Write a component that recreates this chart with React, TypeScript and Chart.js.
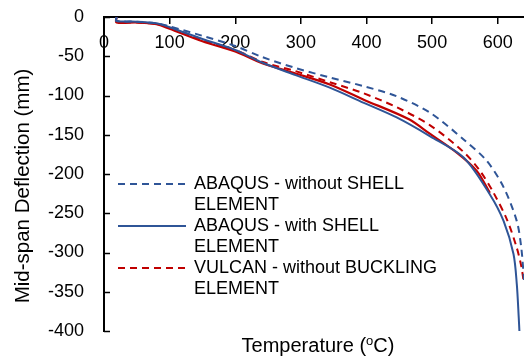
import React, { useEffect, useRef } from "react";
import { Chart, registerables } from "chart.js";

Chart.register(...registerables);

const FONT = "'Liberation Sans', Arial, Helvetica, sans-serif";

// ABAQUS - without SHELL ELEMENT (blue dashed)
const tempAbaqusNoShell = [19, 19, 50, 80, 100, 150, 200, 241, 292, 344, 395, 446, 497, 548, 583, 609, 629, 636, 640];
const deflAbaqusNoShell = [0, -5, -6, -8, -12, -24, -37, -51, -65, -77, -88, -101, -122, -156, -183, -217, -260, -295, -335];

// ABAQUS - with SHELL ELEMENT (blue solid)
const tempAbaqusShell = [19, 19, 50, 80, 100, 150, 200, 241, 292, 344, 395, 446, 497, 548, 588, 609, 624, 629, 632, 633];
const deflAbaqusShell = [0, -5, -6, -8, -13, -28, -42, -58, -74, -90, -109, -128, -152, -179, -226, -260, -302, -340, -383, -400];

// VULCAN - without BUCKLING ELEMENT (red dashed)
const tempVulcanNoBuckling = [19, 19, 50, 80, 100, 150, 200, 241, 292, 344, 395, 446, 497, 548, 573, 593, 614, 629, 636, 640];
const deflVulcanNoBuckling = [0, -6, -7, -9, -13, -29, -42, -57, -69, -83, -97, -115, -138, -172, -196, -223, -258, -294, -318, -340];

// VULCAN (red solid, no legend entry)
const tempVulcan = [19, 19, 50, 80, 100, 150, 200, 241, 292, 344, 395, 464, 497, 538, 568, 588];
const deflVulcan = [0, -7, -7, -9, -15, -31, -44, -59, -72, -86, -105, -130, -149, -173, -196, -224];

const xTickMin = 0;
const xTickMax = 640;
const xTickStep = 100;
const yTickMin = -400;
const yTickMax = 0;
const yTickStep = 50;

const legendLabels = [
  "ABAQUS - without SHELL ELEMENT",
  "ABAQUS - with SHELL ELEMENT",
  "VULCAN - without BUCKLING ELEMENT",
];

const xTitleMain = "Temperature (";
const xTitleSup = "o";
const xTitleEnd = "C)";
const yTitle = "Mid-span Deflection (mm)";

const BLUE = "#2F5597";
const RED = "#C00000";

const toPoints = (xs: number[], ys: number[]) => xs.map((x, i) => ({ x, y: ys[i] }));

const innerYTicks = {
  id: "innerYTicks",
  afterDraw(chart: any) {
    const ys = chart.scales.y;
    const ctx = chart.ctx;
    ctx.save();
    ctx.strokeStyle = "#000";
    ctx.lineWidth = 1.5;
    ys.ticks.forEach((t: any) => {
      const py = Math.round(ys.getPixelForValue(t.value)) + 0.5;
      ctx.beginPath();
      ctx.moveTo(chart.chartArea.left, py);
      ctx.lineTo(chart.chartArea.left + 6, py);
      ctx.stroke();
    });
    ctx.restore();
  },
};

const titlesPlugin = {
  id: "axisTitles",
  afterDraw(chart: any) {
    const ctx = chart.ctx;
    const ca = chart.chartArea;
    ctx.save();
    ctx.fillStyle = "#000";
    ctx.textBaseline = "alphabetic";
    const big = "20px " + FONT;
    const small = "13px " + FONT;
    ctx.font = big;
    const w1 = ctx.measureText(xTitleMain).width;
    const w3 = ctx.measureText(xTitleEnd).width;
    ctx.font = small;
    const w2 = ctx.measureText(xTitleSup).width;
    const total = w1 + w2 + w3;
    const cx = (ca.left + ca.right) / 2 + 4;
    let x = cx - total / 2;
    const base = 352;
    ctx.font = big;
    ctx.textAlign = "left";
    ctx.fillText(xTitleMain, x, base);
    x += w1;
    ctx.font = small;
    ctx.fillText(xTitleSup, x, base - 7);
    x += w2;
    ctx.font = big;
    ctx.fillText(xTitleEnd, x, base);
    ctx.save();
    ctx.translate(23, (ca.top + ca.bottom) / 2 + 12);
    ctx.rotate(-Math.PI / 2);
    ctx.font = "20.5px " + FONT;
    ctx.textAlign = "center";
    ctx.textBaseline = "middle";
    ctx.fillText(yTitle, 0, 0);
    ctx.restore();
    ctx.restore();
  },
};

const legendPlugin = {
  id: "customLegend",
  afterDraw(chart: any) {
    const ctx = chart.ctx;
    const ca = chart.chartArea;
    ctx.save();
    ctx.font = "18px " + FONT;
    ctx.textBaseline = "middle";
    ctx.textAlign = "left";
    const lineH = 21;
    const x0 = ca.left + 14;
    const x1 = ca.left + 82;
    const tx = ca.left + 90;
    const maxW = 255;
    let y = 184;
    const shown = chart.data.datasets.filter((d: any) => d.showInLegend);
    shown.forEach((ds: any) => {
      const words = ds.label.split(" ");
      const lines: string[] = [];
      let cur = "";
      words.forEach((w: string) => {
        const test = cur ? cur + " " + w : w;
        if (ctx.measureText(test).width > maxW && cur) {
          lines.push(cur);
          cur = w;
        } else cur = test;
      });
      if (cur) lines.push(cur);
      ctx.strokeStyle = ds.borderColor;
      ctx.lineWidth = ds.borderWidth;
      ctx.setLineDash(ds.borderDash || []);
      ctx.beginPath();
      ctx.moveTo(x0, y);
      ctx.lineTo(x1, y);
      ctx.stroke();
      ctx.setLineDash([]);
      ctx.fillStyle = "#000";
      lines.forEach((ln, i) => ctx.fillText(ln, tx, y + i * lineH));
      y += lines.length * lineH;
    });
    ctx.restore();
  },
};

export default function App() {
  const ref = useRef<HTMLCanvasElement | null>(null);
  useEffect(() => {
    if (!ref.current) return;
    const chart = new Chart(ref.current, {
      type: "line",
      data: {
        datasets: [
          {
            label: legendLabels[0],
            data: toPoints(tempAbaqusNoShell, deflAbaqusNoShell),
            borderColor: BLUE,
            borderWidth: 2,
            borderDash: [7, 5],
            pointRadius: 0,
            tension: 0.3,
            fill: false,
            showInLegend: true,
          } as any,
          {
            label: legendLabels[1],
            data: toPoints(tempAbaqusShell, deflAbaqusShell),
            borderColor: BLUE,
            borderWidth: 2,
            pointRadius: 0,
            tension: 0.3,
            fill: false,
            showInLegend: true,
          } as any,
          {
            label: legendLabels[2],
            data: toPoints(tempVulcanNoBuckling, deflVulcanNoBuckling),
            borderColor: RED,
            borderWidth: 2,
            borderDash: [7, 5],
            pointRadius: 0,
            tension: 0.3,
            fill: false,
            showInLegend: true,
          } as any,
          {
            label: "VULCAN",
            data: toPoints(tempVulcan, deflVulcan),
            borderColor: RED,
            borderWidth: 2.2,
            pointRadius: 0,
            tension: 0.3,
            fill: false,
            showInLegend: false,
          } as any,
        ],
      },
      options: {
        animation: false,
        responsive: false,
        layout: { padding: { top: 17, bottom: 27, left: 0, right: 0 } },
        plugins: {
          legend: { display: false },
          tooltip: { enabled: false },
        },
        scales: {
          x: {
            type: "linear",
            position: { y: 0 } as any,
            min: xTickMin,
            max: xTickMax,
            ticks: {
              stepSize: xTickStep,
              includeBounds: false,
              color: "#000",
              font: { family: FONT, size: 18 },
              padding: 9,
              maxRotation: 0,
            },
            grid: {
              display: true,
              drawOnChartArea: false,
              drawTicks: true,
              tickLength: 6,
              color: "#000",
              lineWidth: 1.5,
            },
            border: { display: true, color: "#000", width: 2 },
          },
          y: {
            type: "linear",
            position: "left",
            min: yTickMin,
            max: yTickMax,
            afterFit: (s: any) => {
              s.width = 104;
            },
            ticks: {
              stepSize: yTickStep,
              color: "#000",
              font: { family: FONT, size: 18 },
              padding: 0,
            },
            grid: { display: false, drawTicks: true, tickLength: 20 },
            border: { display: true, color: "#000", width: 2 },
          },
        },
      },
      plugins: [innerYTicks, titlesPlugin, legendPlugin],
    });
    return () => chart.destroy();
  }, []);
  return (
    <div style={{ position: "absolute", left: 0, top: 0, width: 524, height: 358, background: "#fff" }}>
      <canvas ref={ref} width={524} height={358} style={{ display: "block" }} />
    </div>
  );
}
